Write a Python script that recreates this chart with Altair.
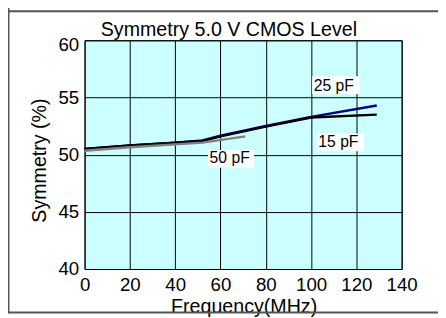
import altair as alt
import pandas as pd

# ---- data ----
freq_15 = [0, 20, 40, 52, 60, 80, 100, 129]
sym_15 = [50.5, 50.8, 51.05, 51.2, 51.6, 52.45, 53.25, 53.5]
freq_25 = [0, 20, 40, 52, 60, 80, 100, 129]
sym_25 = [50.5, 50.8, 51.05, 51.25, 51.65, 52.5, 53.3, 54.3]
freq_50 = [0, 20, 40, 52, 71]
sym_50 = [50.35, 50.65, 50.9, 51.05, 51.6]

series_names = ["25 pF", "15 pF", "50 pF"]
series_colors = ["#000080", "#000000", "#808080"]

label_text = ["25 pF", "15 pF", "50 pF"]
label_x = [101.2, 103.2, 55.2]
label_y = [55.6, 50.65, 49.25]
box_x = [100.5, 102.6, 54.5]
box_x2 = [121.3, 123.4, 74.8]
box_y = [55.3, 50.3, 48.85]
box_y2 = [56.85, 51.86, 50.4]

x_ticks = [0, 20, 40, 60, 80, 100, 120, 140]
y_ticks = [40, 45, 50, 55, 60]

chart_title = "Symmetry 5.0 V CMOS Level"

FONT = "Liberation Sans"

rows = []
for name, fx, sy in [("25 pF", freq_25, sym_25), ("15 pF", freq_15, sym_15), ("50 pF", freq_50, sym_50)]:
    for i, (a, b) in enumerate(zip(fx, sy)):
        rows.append({"series": name, "freq": a, "sym": b, "order": i})
lines_df = pd.DataFrame(rows)

labels_df = pd.DataFrame({
    "text": label_text, "lx": label_x, "ly": label_y,
    "bx": box_x, "bx2": box_x2, "by": box_y, "by2": box_y2,
})

xscale = alt.Scale(domain=[0, 140], nice=False, zero=False)
yscale = alt.Scale(domain=[40, 60], nice=False, zero=False)

x_axis = alt.Axis(
    values=x_ticks, title="Frequency(MHz)", grid=True, gridColor="#000000",
    gridOpacity=1, gridWidth=1, domain=False, ticks=False, labelPadding=7,
    labelFlush=False, labelOverlap=False,
    labelFontSize=19, labelFont=FONT, labelColor="#000000",
    titleFontSize=20, titleFont=FONT, titleFontWeight="normal", titleColor="#000000",
    titleX=162, titleY=44, titleBaseline="alphabetic", titleAlign="center",
)
y_axis = alt.Axis(
    values=y_ticks, title="Symmetry (%)", grid=True, gridColor="#000000",
    gridOpacity=1, gridWidth=1, domain=False, ticks=False, labelPadding=6,
    labelFlush=False, labelOverlap=False,
    labelFontSize=19, labelFont=FONT, labelColor="#000000",
    labelOffset={"condition": {"test": "datum.value == 60", "value": 4}, "value": 0},
    titleFontSize=20, titleFont=FONT, titleFontWeight="normal", titleColor="#000000",
    titleX=-40, titleY=122, titleBaseline="alphabetic", titleAlign="center", titleAngle=270,
)

boxes = alt.Chart(labels_df).mark_rect(color="#ffffff").encode(
    x=alt.X("bx:Q", scale=xscale, axis=x_axis),
    x2="bx2:Q",
    y=alt.Y("by:Q", scale=yscale, axis=y_axis),
    y2="by2:Q",
)

texts = alt.Chart(labels_df).mark_text(
    align="left", baseline="alphabetic", font=FONT, fontSize=16, color="#000000"
).encode(
    x=alt.X("lx:Q", scale=xscale),
    y=alt.Y("ly:Q", scale=yscale),
    text="text:N",
)

lines = alt.Chart(lines_df).mark_line(strokeWidth=2.5).encode(
    x=alt.X("freq:Q", scale=xscale),
    y=alt.Y("sym:Q", scale=yscale),
    color=alt.Color("series:N", scale=alt.Scale(domain=series_names, range=series_colors), legend=None),
    detail="series:N",
    order="order:Q",
)

one = pd.DataFrame({"a": [0]})
title_mark = alt.Chart(one).mark_text(
    align="center", baseline="alphabetic", font=FONT, fontSize=20, color="#000000"
).encode(x=alt.value(147), y=alt.value(-4), text=alt.value(chart_title))

frame_left = alt.Chart(one).mark_rule(color="#555555", strokeWidth=2).encode(
    x=alt.value(-77.5), y=alt.value(-40), y2=alt.value(278)
)
frame_top = alt.Chart(one).mark_rule(color="#555555", strokeWidth=2).encode(
    x=alt.value(-78), x2=alt.value(400), y=alt.value(-29.5)
)
frame_bottom = alt.Chart(one).mark_rule(color="#555555", strokeWidth=2).encode(
    x=alt.value(-78), x2=alt.value(400), y=alt.value(277.3)
)

chart = alt.layer(boxes, texts, lines, title_mark, frame_left, frame_top, frame_bottom).properties(
    width=323,
    height=233,
    autosize=alt.AutoSizeParams(type="none"),
    padding={"left": 78, "top": 30, "right": 37, "bottom": 47},
    background="#ffffff",
).configure_view(
    fill="#ccffff", stroke="#000000", strokeWidth=1
)

chart.save("out.html", embed_options={"renderer": "svg", "actions": False})
